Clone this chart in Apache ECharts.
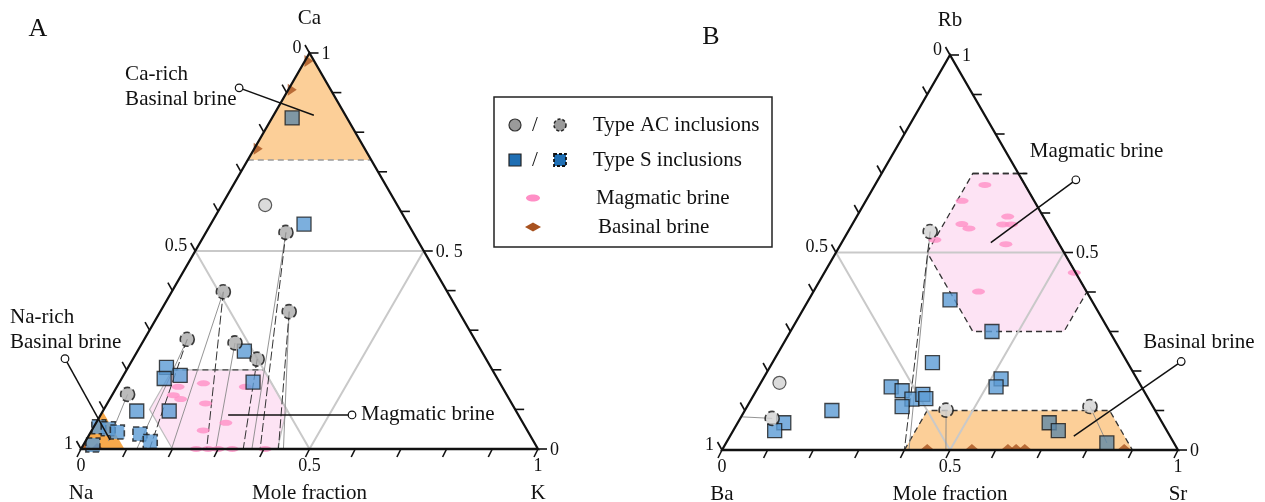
<!DOCTYPE html>
<html><head><meta charset="utf-8">
<script src="https://cdn.jsdelivr.net/npm/echarts@6/dist/echarts.min.js"></script>
<style>html,body{margin:0;padding:0;background:#fff}#c{width:1265px;height:502px}</style>
</head><body><div id="c"></div>
<script>
const FONT = '"Liberation Serif","Times New Roman",serif';

// ---------- Panel A : compositions as [K, Ca] (Na = 1 - K - Ca) ----------
const A_acSolid  = [[0.095,0.616]];
const A_acDashed = [[0.175,0.547],[0.113,0.397],[0.282,0.347],[0.094,0.277],[0.203,0.268],[0.272,0.227],[0.033,0.138]];
const A_sSolid   = [[0.044,0.836],[0.204,0.568],[0.234,0.247],[0.292,0.169],[0.084,0.206],[0.093,0.178],[0.124,0.186],[0.145,0.096],[0.074,0.096]];
const A_sDashed  = [[0.110,0.038],[0.142,0.019],[0.011,0.056],[0.034,0.051],[0.058,0.043],[0.021,0.010]];
const A_magmatic = [[0.134,0.157],[0.185,0.166],[0.134,0.136],[0.155,0.126],[0.215,0.115],[0.281,0.157],[0.284,0.066],[0.244,0.047],[0.252,0],[0.278,0],[0.300,0],[0.331,0],[0.403,0]];
const A_basinalEdge = [[0,0.98],[0,0.907],[0,0.758]];
const A_basinalBase = [[0.01,0],[0.035,0]];
const A_caRichRegion = [[0,1],[0,0.73],[0.27,0.73]];
const A_caRichLimit  = [[0,0.73],[0.27,0.73]];
const A_naRichRegion = [[0,0],[0.095,0],[0,0.095]];
const A_magRegion    = [[0.1,0.2],[0.3,0.2],[0.4,0.1],[0.43,0],[0.2,0],[0.1,0.1]];
const A_magTop       = [[0.1,0.2],[0.3,0.2]];
const A_tieSolid  = [[[0.175,0.547],[0.374,0]],[[0.113,0.397],[0.198,0]],[[0.094,0.277],[0.122,0]],[[0.203,0.268],[0.295,0]],[[0.033,0.138],[0.05,0.02]],[[0.282,0.347],[0.443,0]]];
const A_tieDashed = [[[0.175,0.547],[0.392,0]],[[0.113,0.397],[0.275,0]],[[0.282,0.347],[0.432,0]],[[0.272,0.227],[0.355,0]],[[0.094,0.277],[0.15,0]]];
const A_corner = ['Ca','Na','K'];
const A_baseLabels  = [[0,'0'],[0.5,'0.5'],[1,'1']];
const A_leftLabels  = [[0,'0'],[0.5,'0.5'],[1,'1']];
const A_rightLabels = [[1,'1'],[0.5,'0. 5'],[0,'0']];

// ---------- Panel B : compositions as [Sr, Rb] (Ba = 1 - Sr - Rb) ----------
const B_acSolid  = [[0.041,0.170]];
const B_acDashed = [[0.070,0.080],[0.180,0.553],[0.441,0.101],[0.752,0.110]];
const B_sSolid   = [[0.101,0.069],[0.091,0.049],[0.191,0.100],[0.291,0.160],[0.320,0.150],[0.352,0.129],[0.340,0.110],[0.370,0.141],[0.382,0.130],[0.351,0.221],[0.310,0.380],[0.442,0.300],[0.522,0.180],[0.521,0.160],[0.683,0.069],[0.713,0.049],[0.835,0.018]];
const B_magmatic = [[0.241,0.671],[0.211,0.631],[0.331,0.591],[0.240,0.572],[0.261,0.561],[0.330,0.571],[0.349,0.571],[0.201,0.532],[0.362,0.521],[0.548,0.449],[0.362,0.401]];
const B_basinal  = [[0.450,0],[0.548,0],[0.627,0],[0.645,0],[0.664,0],[0.882,0]];
const B_magRegion = [[0.2,0.7],[0.3,0.7],[0.6,0.4],[0.6,0.3],[0.4,0.3],[0.2,0.5]];
const B_magTopExt = [[0.2,0.7],[0.318,0.7]];
const B_basRegion = [[0.4,0],[0.4,0.1],[0.8,0.1],[0.9,0]];
const B_tieSolid  = [[[0.070,0.080],[0,0.084]],[[0.180,0.553],[0.41,0]],[[0.441,0.101],[0.491,0]],[[0.752,0.110],[0.835,0.018]]];
const B_tieDashed = [[[0.180,0.553],[0.40,0]]];
const B_corner = ['Rb','Ba','Sr'];
const B_baseLabels  = [[0,'0'],[0.5,'0.5'],[1,'1']];
const B_leftLabels  = [[0,'0'],[0.5,'0.5'],[1,'1']];
const B_rightLabels = [[1,'1'],[0.5,'0.5'],[0,'0']];

// callouts: [circle composition, end composition, text lines]
const A_callouts = [
  {c:[-0.110,0.912], e:[0.088,0.843], lines:['Ca-rich','Basinal brine'], dx:-114, dy:-13},
  {c:[-0.149,0.228], e:[0.052,0.023], lines:['Na-rich','Basinal brine'], dx:-55, dy:-41},
  {c:[0.550,0.086], e:[0.279,0.086], lines:['Magmatic brine'], dx:9, dy:0}
];
const B_callouts = [
  {c:[0.434,0.684], e:[0.327,0.525], lines:['Magmatic brine'], dx:-46, dy:-28},
  {c:[0.895,0.224], e:[0.754,0.035], lines:['Basinal brine'], dx:-38, dy:-19}
];
const legendRows = ['Type AC inclusions','Type S inclusions','Magmatic brine','Basinal brine'];

// ternary -> cartesian (base fraction, height fraction)
const tern = p => [p[0] + p[1]/2, p[1]];

const C_BLUE = '#5b9bd5', C_BLUE_MUTED = '#5f88a8', C_GRAY = '#aaaaaa', C_GRAY_L = '#d2d2d2';
const C_PINK = '#ff8fc6', C_PINKF = '#fde3f4', C_ORANGE = '#fccf98', C_ORANGE2 = '#f7a94b', C_BROWN = '#a8521f';

function scatter(g, data, opt) {
  return Object.assign({type:'scatter', xAxisIndex:g, yAxisIndex:g, silent:true, clip:false,
    data: data.map(tern)}, opt);
}
function polyCustom(g, list, z) {
  return {type:'custom', xAxisIndex:g, yAxisIndex:g, z, silent:true, clip:false,
    data: list.map(r => tern(r.v[0])),
    renderItem: (params, api) => {
      const r = list[params.dataIndex];
      const pts = r.v.map(p => api.coord(tern(p)));
      if (r.line) return {type:'polyline', shape:{points:pts}, style:{fill:null, stroke:r.stroke, lineWidth:r.lw||1, lineDash:r.dash||null}};
      return {type:'polygon', shape:{points:pts}, style:{fill:r.fill, stroke:r.stroke||null, lineWidth:r.lw||1, lineDash:r.dash||null}};
    }};
}
function txt(x, y, s, size, align, valign) {
  return {type:'text', x, y, style:{text:s, font:size+'px '+FONT, fill:'#111', align:align||'center', verticalAlign:valign||'middle', textAlign:align||'center', textVerticalAlign:valign||'middle'}};
}
function seg(a, b, lw, color) {
  return {type:'line', shape:{x1:a[0], y1:a[1], x2:b[0], y2:b[1]}, style:{stroke:color||'#111', lineWidth:lw||1.6}};
}
function medial(g) {
  return {type:'custom', xAxisIndex:g, yAxisIndex:g, z:2, silent:true, clip:false, data:[[0.5,0.5]],
    renderItem:(params, api) => ({type:'polygon', shape:{points:[api.coord([0.25,0.5]),api.coord([0.75,0.5]),api.coord([0.5,0])]},
      style:{fill:null, stroke:'#c9c9c9', lineWidth:2}})};
}
function frame(g, corner, baseL, leftL, rightL) {
  return {type:'custom', xAxisIndex:g, yAxisIndex:g, z:8, silent:true, clip:false, data:[[0,0]],
    renderItem:(params, api) => {
      const P = v => api.coord(v);
      const L = P([0,0]), R = P([1,0]), T = P([0.5,1]);
      const ch = [{type:'polygon', shape:{points:[L,R,T]}, style:{fill:null, stroke:'#111', lineWidth:2.3}}];
      for (let i = 0; i <= 10; i++) {
        const f = i/10;
        const b = P([f,0]); ch.push(seg(b,[b[0]-4,b[1]+8]));
        const l = P([(1-f)/2, 1-f]); ch.push(seg(l,[l[0]-4.5,l[1]-8]));
        const r = P([1-f/2, f]); ch.push(seg(r,[r[0]+9,r[1]]));
      }
      baseL.forEach(([f,s]) => { const b = P([f,0]); ch.push(txt(b[0], b[1]+17, s, 18)); });
      leftL.forEach(([f,s]) => { const l = P([(1-f)/2, 1-f]); ch.push(txt(l[0]-8, l[1]-5, s, 18, 'right')); });
      rightL.forEach(([f,s]) => { const r = P([1-f/2, f]); ch.push(txt(r[0]+12, r[1]+1, s, 18, 'left')); });
      ch.push(txt(T[0], T[1]-35, corner[0], 21));
      ch.push(txt(L[0], L[1]+44, corner[1], 21));
      ch.push(txt(R[0], R[1]+44, corner[2], 21));
      ch.push(txt((L[0]+R[0])/2, L[1]+44, 'Mole fraction', 21));
      return {type:'group', children:ch};
    }};
}
function ties(g, list, dashed) {
  return {type:'custom', xAxisIndex:g, yAxisIndex:g, z:3, silent:true, clip:false,
    data: list.map(s => tern(s[0])),
    renderItem:(params, api) => {
      const s = list[params.dataIndex];
      const a = api.coord(tern(s[0])), b = api.coord(tern(s[1]));
      return {type:'line', shape:{x1:a[0],y1:a[1],x2:b[0],y2:b[1]},
        style:{stroke: dashed ? '#333' : '#888', lineWidth: dashed ? 1 : 0.9, lineDash: dashed ? [9,3] : null}};
    }};
}
function callouts(g, list) {
  return {type:'custom', xAxisIndex:g, yAxisIndex:g, z:9, silent:true, clip:false,
    data: list.map(c => tern(c.e)),
    renderItem:(params, api) => {
      const c = list[params.dataIndex];
      const a = api.coord(tern(c.c)), b = api.coord(tern(c.e));
      const ch = [seg(a,b,1.5,'#111'),
        {type:'circle', shape:{cx:a[0], cy:a[1], r:3.8}, style:{fill:'#fff', stroke:'#111', lineWidth:1.2}}];
      c.lines.forEach((s,i) => ch.push(txt(a[0]+c.dx, a[1]+c.dy+i*25, s, 21, 'left')));
      return {type:'group', children:ch};
    }};
}
function inside(p, poly) { // point-in-polygon on cartesian coords
  const q = tern(p), v = poly.map(tern); let ins = false;
  for (let i = 0, j = v.length-1; i < v.length; j = i++) {
    if (((v[i][1] > q[1]) !== (v[j][1] > q[1])) && (q[0] < (v[j][0]-v[i][0])*(q[1]-v[i][1])/(v[j][1]-v[i][1]) + v[i][0])) ins = !ins;
  }
  return ins;
}
function squares(g, data, regions, dashed) {
  return {type:'scatter', xAxisIndex:g, yAxisIndex:g, silent:true, clip:false, z:6,
    symbol:'rect', symbolSize:14,
    data: data.map(p => ({value: tern(p), itemStyle:{color: regions.some(r => inside(p,r)) ? C_BLUE_MUTED : C_BLUE}})),
    itemStyle:{borderColor:'#1a1a1a', borderWidth: dashed ? 1.6 : 1.3, borderType: dashed ? 'dashed' : 'solid'}};
}

const chart = echarts.init(document.getElementById('c'), null, {renderer:'canvas'});
const axisOff = {type:'value', min:0, max:1, show:false};
const series = [
  polyCustom(0, [{v:A_caRichRegion, fill:C_ORANGE},{v:A_naRichRegion, fill:C_ORANGE2},{v:A_magRegion, fill:C_PINKF, stroke:'#bdbdbd', lw:1.2}], 1),
  polyCustom(0, [{v:A_caRichLimit, line:true, stroke:'#9a9a9a', lw:1.5, dash:[6,4]},{v:A_magTop, line:true, stroke:'#444', lw:1.3, dash:[6,4]}], 2),
  medial(0),
  ties(0, A_tieSolid, false), ties(0, A_tieDashed, true),
  scatter(0, A_magmatic, {symbol:'circle', symbolSize:[13,6], itemStyle:{color:C_PINK}, z:4}),
  scatter(0, A_basinalEdge, {symbol:'path://M0,0L10,6L0,12Z', symbolSize:[9,12], symbolOffset:[4,0], itemStyle:{color:C_BROWN}, z:4}),
  scatter(0, A_basinalBase, {symbol:'path://M0,6L8,0L16,6Z', symbolSize:[12,6], symbolOffset:[0,-3], itemStyle:{color:C_BROWN}, z:4}),
  squares(0, A_sSolid, [A_caRichRegion], false),
  squares(0, A_sDashed, [], true),
  scatter(0, A_acSolid, {symbol:'circle', symbolSize:13, itemStyle:{color:C_GRAY_L, borderColor:'#333', borderWidth:1.2}, z:6}),
  scatter(0, A_acDashed, {symbol:'circle', symbolSize:14, itemStyle:{color:C_GRAY, borderColor:'#111', borderWidth:1.6, borderType:'dashed'}, z:6}),
  frame(0, A_corner, A_baseLabels, A_leftLabels, A_rightLabels),
  callouts(0, A_callouts),

  polyCustom(1, [{v:B_magRegion, fill:C_PINKF, stroke:'#333', lw:1.3, dash:[6,4]},{v:B_basRegion, fill:C_ORANGE, stroke:'#333', lw:1.3, dash:[6,4]}], 1),
  polyCustom(1, [{v:B_magTopExt, line:true, stroke:'#333', lw:1.3, dash:[6,4]}], 2),
  medial(1),
  ties(1, B_tieSolid, false), ties(1, B_tieDashed, true),
  scatter(1, B_magmatic, {symbol:'circle', symbolSize:[13,6], itemStyle:{color:C_PINK}, z:4}),
  scatter(1, B_basinal, {symbol:'path://M0,6L8,0L16,6Z', symbolSize:[14,6], symbolOffset:[0,-3], itemStyle:{color:C_BROWN}, z:4}),
  squares(1, B_sSolid, [B_basRegion], false),
  scatter(1, B_acSolid, {symbol:'circle', symbolSize:13, itemStyle:{color:C_GRAY_L, borderColor:'#333', borderWidth:1.2}, z:6}),
  scatter(1, B_acDashed, {symbol:'circle', symbolSize:14, itemStyle:{color:C_GRAY_L, borderColor:'#111', borderWidth:1.6, borderType:'dashed'}, z:6}),
  frame(1, B_corner, B_baseLabels, B_leftLabels, B_rightLabels),
  callouts(1, B_callouts)
];

const lg = {x:494, y:97, w:278, h:150};
const legendGraphic = [
  {type:'rect', shape:{x:lg.x, y:lg.y, width:lg.w, height:lg.h}, style:{fill:'#fff', stroke:'#222', lineWidth:1.5}, z:20},
  {type:'circle', shape:{cx:515, cy:125, r:6}, style:{fill:'#9a9a9a', stroke:'#333', lineWidth:1.2}, z:21},
  {type:'text', x:535, y:125, style:{text:'/', font:'21px '+FONT, fill:'#111', align:'center', verticalAlign:'middle'}, z:21},
  {type:'circle', shape:{cx:560, cy:125, r:6}, style:{fill:'#9a9a9a', stroke:'#222', lineWidth:1.5, lineDash:[3,2]}, z:21},
  {type:'rect', shape:{x:509, y:154, width:12, height:12}, style:{fill:'#1f6fb4', stroke:'#222', lineWidth:1.2}, z:21},
  {type:'text', x:535, y:160, style:{text:'/', font:'21px '+FONT, fill:'#111', align:'center', verticalAlign:'middle'}, z:21},
  {type:'rect', shape:{x:554, y:154, width:12, height:12}, style:{fill:'#1f6fb4', stroke:'#111', lineWidth:1.8, lineDash:[3,2]}, z:21},
  {type:'ellipse', shape:{cx:533, cy:198, rx:7, ry:3.5}, style:{fill:C_PINK}, z:21},
  {type:'polygon', shape:{points:[[525,227],[533,222.5],[541,227],[533,231.5]]}, style:{fill:C_BROWN}, z:21},
  {type:'text', x:593, y:125, style:{text:legendRows[0], font:'21px '+FONT, fill:'#111', align:'left', verticalAlign:'middle'}, z:21},
  {type:'text', x:593, y:160, style:{text:legendRows[1], font:'21px '+FONT, fill:'#111', align:'left', verticalAlign:'middle'}, z:21},
  {type:'text', x:596, y:198, style:{text:legendRows[2], font:'21px '+FONT, fill:'#111', align:'left', verticalAlign:'middle'}, z:21},
  {type:'text', x:598, y:227, style:{text:legendRows[3], font:'21px '+FONT, fill:'#111', align:'left', verticalAlign:'middle'}, z:21},
  {type:'text', x:38, y:29, style:{text:'A', font:'26px '+FONT, fill:'#111', align:'center', verticalAlign:'middle'}, z:21},
  {type:'text', x:711, y:37, style:{text:'B', font:'26px '+FONT, fill:'#111', align:'center', verticalAlign:'middle'}, z:21}
];

chart.setOption({
  animation:false,
  backgroundColor:'#fff',
  grid:[{left:81, top:53, width:457, height:396},{left:722, top:55, width:456, height:395}],
  xAxis:[Object.assign({gridIndex:0}, axisOff), Object.assign({gridIndex:1}, axisOff)],
  yAxis:[Object.assign({gridIndex:0}, axisOff), Object.assign({gridIndex:1}, axisOff)],
  series,
  graphic: legendGraphic
});
</script></body></html>
